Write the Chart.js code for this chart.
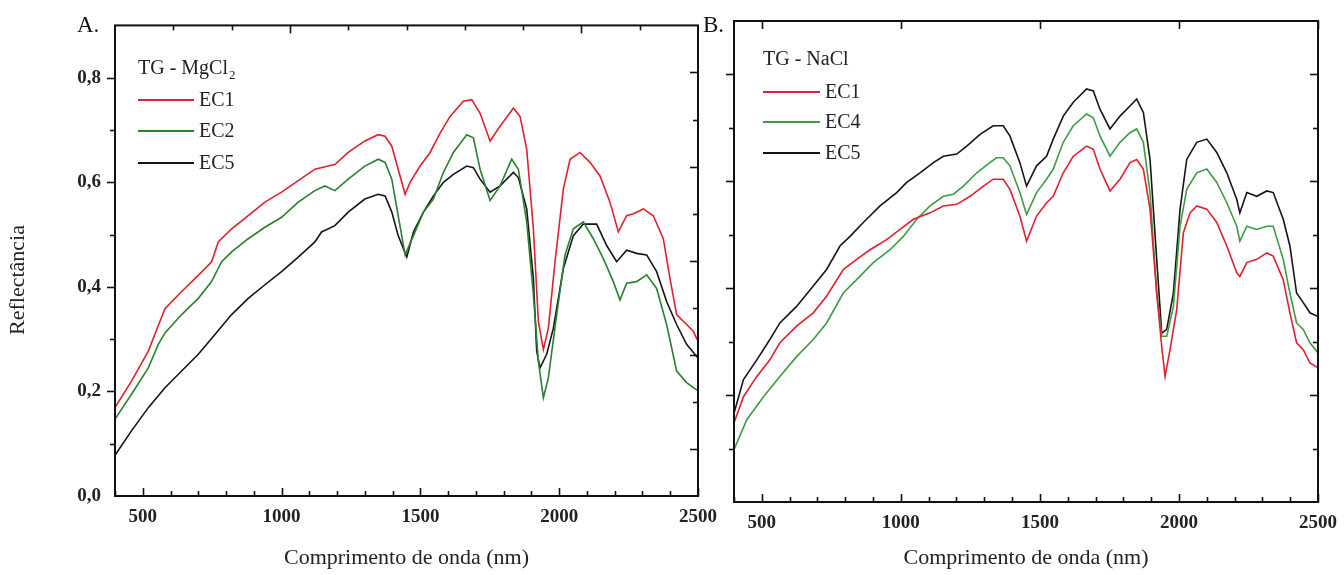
<!DOCTYPE html>
<html>
<head>
<meta charset="utf-8">
<script src="https://cdn.jsdelivr.net/npm/chart.js@4"></script>
<style>
  html, body { margin: 0; padding: 0; background: #fff; }
  #wrap { position: relative; width: 1344px; height: 575px; overflow: hidden; }
  #chartA { position: absolute; left: 0; top: 0; }
  #chartB { position: absolute; left: 700px; top: 0; }
</style>
</head>
<body>
<div id="wrap">
  <canvas id="chartA" width="720" height="575"></canvas>
  <canvas id="chartB" width="644" height="575"></canvas>
</div>
<script>
// Painel A: TG - MgCl2
const aEC1Nm = [400,460,520,556,580,640,700,748,772,820,880,940,1000,1060,1120,1168,1192,1240,1300,1348,1373,1397,1420,1445,1463,1499,1535,1571,1607,1655,1685,1715,1751,1787,1835,1859,1883,1907,1925,1943,1961,1985,2015,2039,2075,2111,2147,2183,2213,2243,2267,2303,2339,2375,2399,2423,2459,2483,2500];
const aEC1 = [0.169,0.220,0.277,0.326,0.358,0.391,0.422,0.448,0.486,0.511,0.536,0.562,0.581,0.603,0.625,0.631,0.634,0.657,0.679,0.691,0.688,0.669,0.625,0.577,0.600,0.631,0.657,0.694,0.726,0.755,0.758,0.732,0.679,0.707,0.742,0.726,0.663,0.511,0.334,0.280,0.321,0.448,0.587,0.644,0.657,0.638,0.612,0.562,0.505,0.536,0.540,0.549,0.536,0.492,0.416,0.347,0.328,0.315,0.296];

const aEC2Nm = [400,460,520,556,580,640,700,748,784,820,880,940,1000,1060,1120,1156,1192,1240,1300,1348,1373,1397,1420,1445,1475,1511,1547,1583,1619,1667,1691,1715,1751,1787,1829,1853,1883,1907,1925,1943,1961,1991,2021,2051,2087,2123,2159,2195,2219,2243,2279,2315,2351,2387,2423,2459,2500];
const aEC2 = [0.147,0.195,0.245,0.290,0.312,0.347,0.378,0.410,0.448,0.467,0.492,0.514,0.533,0.562,0.584,0.593,0.584,0.606,0.631,0.644,0.638,0.606,0.536,0.461,0.498,0.543,0.568,0.619,0.657,0.691,0.685,0.625,0.565,0.593,0.644,0.625,0.524,0.385,0.258,0.188,0.226,0.347,0.461,0.511,0.524,0.492,0.454,0.410,0.375,0.407,0.410,0.423,0.397,0.328,0.239,0.217,0.201];

const aEC5Nm = [400,460,520,580,640,700,760,820,880,940,1000,1060,1120,1144,1192,1240,1300,1348,1373,1397,1420,1451,1475,1511,1547,1583,1619,1667,1691,1715,1751,1787,1835,1853,1883,1907,1919,1931,1955,1979,2015,2051,2087,2135,2171,2207,2243,2279,2315,2351,2387,2423,2459,2500];
const aEC5 = [0.078,0.125,0.169,0.207,0.239,0.271,0.309,0.347,0.378,0.404,0.429,0.457,0.486,0.505,0.517,0.543,0.568,0.577,0.574,0.543,0.498,0.457,0.505,0.543,0.574,0.600,0.615,0.631,0.628,0.606,0.581,0.593,0.619,0.609,0.549,0.416,0.277,0.245,0.271,0.321,0.435,0.498,0.520,0.520,0.479,0.448,0.470,0.464,0.461,0.429,0.372,0.328,0.290,0.264];

// Painel B: TG - NaCl
const bEC1Nm = [400,434,482,529,565,625,685,733,793,841,889,949,997,1045,1105,1153,1201,1249,1297,1332,1368,1392,1428,1452,1488,1524,1548,1584,1620,1668,1692,1716,1752,1788,1824,1848,1872,1896,1920,1938,1950,1968,1992,2016,2040,2064,2100,2136,2172,2208,2219,2244,2280,2316,2339,2375,2399,2423,2447,2471,2500];
const bEC1 = [0.148,0.197,0.235,0.266,0.298,0.329,0.354,0.385,0.435,0.454,0.472,0.491,0.510,0.529,0.541,0.554,0.557,0.572,0.591,0.604,0.604,0.585,0.535,0.488,0.535,0.560,0.572,0.616,0.647,0.666,0.660,0.623,0.582,0.604,0.635,0.641,0.623,0.548,0.391,0.291,0.235,0.285,0.360,0.504,0.541,0.554,0.548,0.523,0.479,0.429,0.422,0.448,0.454,0.466,0.460,0.416,0.354,0.298,0.285,0.260,0.251];

const bEC4Nm = [400,446,506,565,625,685,733,793,841,901,961,1009,1057,1105,1153,1189,1225,1273,1320,1344,1368,1392,1428,1452,1488,1524,1548,1584,1620,1668,1692,1716,1752,1788,1824,1848,1872,1896,1920,1938,1956,1980,2004,2028,2064,2100,2136,2172,2208,2219,2244,2280,2316,2339,2375,2399,2423,2447,2471,2500];
const bEC4 = [0.098,0.154,0.197,0.235,0.272,0.304,0.335,0.391,0.416,0.448,0.472,0.497,0.529,0.554,0.572,0.576,0.591,0.616,0.635,0.644,0.644,0.629,0.579,0.538,0.579,0.604,0.623,0.673,0.704,0.726,0.719,0.685,0.647,0.673,0.691,0.698,0.673,0.579,0.391,0.310,0.310,0.366,0.516,0.585,0.616,0.623,0.598,0.560,0.516,0.488,0.516,0.510,0.516,0.516,0.454,0.391,0.335,0.323,0.298,0.279];

const bEC5Nm = [400,434,482,529,565,625,685,733,781,817,865,925,985,1021,1069,1117,1153,1201,1237,1285,1332,1368,1392,1428,1452,1488,1524,1548,1584,1620,1668,1692,1716,1752,1788,1824,1848,1872,1896,1920,1938,1956,1980,2004,2028,2064,2100,2136,2172,2208,2219,2244,2280,2316,2339,2375,2399,2423,2447,2471,2500];
const bEC5 = [0.166,0.229,0.266,0.304,0.335,0.366,0.404,0.435,0.479,0.497,0.523,0.554,0.579,0.598,0.616,0.635,0.647,0.651,0.666,0.688,0.704,0.704,0.685,0.635,0.591,0.629,0.647,0.679,0.722,0.748,0.773,0.769,0.735,0.698,0.722,0.741,0.754,0.729,0.641,0.454,0.316,0.323,0.391,0.548,0.641,0.673,0.679,0.654,0.616,0.566,0.541,0.579,0.572,0.582,0.579,0.529,0.479,0.391,0.373,0.354,0.347];

// Eixos
const xTicks = [500, 1000, 1500, 2000, 2500];
const xMinorTicks = [400,500,600,700,800,900,1000,1100,1200,1300,1400,1500,1600,1700,1800,1900,2000,2100,2200,2300,2400,2500];
const yTicks = [0, 0.2, 0.4, 0.6, 0.8];
const yMinorTicks = [0.1, 0.2, 0.3, 0.4, 0.5, 0.6, 0.7, 0.8];
const yRightA = [0.1, 0.2, 0.3, 0.4, 0.5, 0.6, 0.7, 0.8, 0.9];
const yRightAMajor = [0.1, 0.3, 0.5, 0.7, 0.9];
const xTopA = [1, 2, 3, 4, 5, 6, 7, 8, 9];
const xTopAMajor = [3, 8];

const SERIF = "'Liberation Serif', 'Times New Roman', serif";
const pts = (nm, v) => nm.map((x, i) => ({ x, y: v[i] }));

function line(label, nm, vals, color) {
  return { label, data: pts(nm, vals), borderColor: color, backgroundColor: color,
           borderWidth: 1.6, pointRadius: 0, tension: 0, fill: false };
}

const decor = {
  id: 'decor',
  afterDatasetsDraw(chart, args, opts) {
    const { ctx, chartArea: a, scales } = chart;
    ctx.save();
    ctx.strokeStyle = '#111';
    ctx.lineWidth = 1.6;
    (opts.ticks || []).forEach(t => {
      const s = scales[t.scale];
      t.values.forEach(v => {
        const p = Math.round(s.getPixelForValue(v)) + 0.5;
        const len = (t.major || []).includes(v) ? 8 : 5;
        ctx.beginPath();
        if (t.side === 'bottom') { const d = t.dir === 'in' ? -1 : 1; ctx.moveTo(p, a.bottom); ctx.lineTo(p, a.bottom + d * len); }
        if (t.side === 'top') { const d = t.dir === 'in' ? 1 : -1; ctx.moveTo(p, a.top); ctx.lineTo(p, a.top + d * len); }
        if (t.side === 'left') { const d = t.dir === 'in' ? 1 : -1; ctx.moveTo(a.left, p); ctx.lineTo(a.left + d * len, p); }
        if (t.side === 'right') { const d = t.dir === 'in' ? -1 : 1; ctx.moveTo(a.right, p); ctx.lineTo(a.right + d * len, p); }
        ctx.stroke();
      });
    });
    ctx.lineWidth = 2;
    ctx.strokeRect(a.left, a.top, a.right - a.left, a.bottom - a.top);

    // legenda
    const lg = opts.legend;
    if (lg) {
      ctx.fillStyle = '#222';
      ctx.textBaseline = 'middle';
      ctx.font = `20px ${SERIF}`;
      ctx.fillText(lg.title, lg.x, lg.titleY);
      if (lg.sub) {
        const w = ctx.measureText(lg.title).width;
        ctx.font = `13px ${SERIF}`;
        ctx.fillText(lg.sub, lg.x + w + 1, lg.titleY + 7);
      }
      ctx.font = `20px ${SERIF}`;
      chart.data.datasets.forEach((ds, i) => {
        const y = lg.rows[i];
        ctx.strokeStyle = ds.borderColor;
        ctx.lineWidth = 1.8;
        ctx.beginPath();
        ctx.moveTo(lg.x, y);
        ctx.lineTo(lg.x + lg.len, y);
        ctx.stroke();
        ctx.fillText(ds.label, lg.x + lg.len + 5, y + 1);
      });
    }
    if (opts.letter) {
      ctx.fillStyle = '#111';
      ctx.font = `23px ${SERIF}`;
      ctx.textBaseline = 'middle';
      ctx.fillText(opts.letter.text, opts.letter.x, opts.letter.y);
    }
    if (opts.yTitle) {
      ctx.fillStyle = '#222';
      ctx.font = `22px ${SERIF}`;
      ctx.textAlign = 'center';
      ctx.textBaseline = 'middle';
      ctx.translate(opts.yTitle.x, opts.yTitle.y);
      ctx.rotate(-Math.PI / 2);
      ctx.fillText(opts.yTitle.text, 0, 0);
    }
    ctx.restore();
  }
};

const commaFmt = v => v.toFixed(1).replace('.', ',');

function xScale(height) {
  return {
    type: 'linear', min: 400, max: 2500,
    afterBuildTicks: s => { s.ticks = xTicks.map(value => ({ value })); },
    afterFit: s => { s.height = height; s.paddingLeft = 0; s.paddingRight = 0; },
    grid: { display: false, drawTicks: false },
    border: { display: false },
    ticks: { autoSkip: false, maxRotation: 0, padding: 10, color: '#222',
             callback: v => String(v),
             font: { family: SERIF, size: 19, weight: 'bold' } },
    title: { display: true, text: 'Comprimento de onda (nm)', color: '#222',
             padding: { bottom: 4 }, font: { family: SERIF, size: 22 } }
  };
}

new Chart(document.getElementById('chartA'), {
  type: 'line',
  data: {
    datasets: [
      line('EC1', aEC1Nm, aEC1, '#e0202e'),
      line('EC2', aEC2Nm, aEC2, '#2a8030'),
      line('EC5', aEC5Nm, aEC5, '#151515')
    ]
  },
  options: {
    responsive: false,
    animation: false,
    layout: { padding: { left: 0, top: 22, right: 22, bottom: 0 } },
    scales: {
      x: xScale(79),
      y: {
        type: 'linear', min: 0, max: 0.9,
        afterBuildTicks: s => { s.ticks = yTicks.map(value => ({ value })); },
        afterFit: s => { s.width = 115; },
        grid: { display: false, drawTicks: false },
        border: { display: false },
        ticks: { padding: 14, color: '#222', callback: v => commaFmt(v),
                 font: { family: SERIF, size: 19, weight: 'bold' } }
      },
      y2: { type: 'linear', min: 0, max: 1.0, display: false, position: 'right' },
      x2: { type: 'linear', min: 0, max: 10, display: false, position: 'top' }
    },
    plugins: {
      legend: { display: false },
      tooltip: { enabled: false },
      decor: {
        ticks: [
          { scale: 'x', side: 'bottom', dir: 'in', values: xMinorTicks, major: xTicks },
          { scale: 'y', side: 'left', dir: 'out', values: yMinorTicks, major: yTicks },
          { scale: 'y2', side: 'right', dir: 'in', values: yRightA, major: yRightAMajor },
          { scale: 'x2', side: 'top', dir: 'in', values: xTopA, major: xTopAMajor }
        ],
        legend: { title: 'TG - MgCl', sub: '2', x: 138, titleY: 69, rows: [100, 131, 163], len: 56 },
        letter: { text: 'A.', x: 77, y: 26 },
        yTitle: { text: 'Reflectância', x: 18, y: 280 }
      }
    }
  },
  plugins: [decor]
});

new Chart(document.getElementById('chartB'), {
  type: 'line',
  data: {
    datasets: [
      line('EC1', bEC1Nm, bEC1, '#e0202e'),
      line('EC4', bEC4Nm, bEC4, '#3f9a45'),
      line('EC5', bEC5Nm, bEC5, '#151515')
    ]
  },
  options: {
    responsive: false,
    animation: false,
    layout: { padding: { left: 34, top: 21, right: 26, bottom: 0 } },
    scales: {
      x: xScale(73),
      y: { type: 'linear', min: 0, max: 0.9, display: false }
    },
    plugins: {
      legend: { display: false },
      tooltip: { enabled: false },
      decor: {
        ticks: [
          { scale: 'x', side: 'bottom', dir: 'in', values: xMinorTicks, major: xTicks },
          { scale: 'x', side: 'top', dir: 'in', values: xTicks, major: xTicks },
          { scale: 'y', side: 'left', dir: 'out', values: yMinorTicks, major: yTicks },
          { scale: 'y', side: 'right', dir: 'in', values: yMinorTicks, major: yTicks }
        ],
        legend: { title: 'TG - NaCl', x: 63, titleY: 60, rows: [92, 122, 153], len: 57 },
        letter: { text: 'B.', x: 3, y: 26 }
      }
    }
  },
  plugins: [decor]
});
</script>
</body>
</html>
